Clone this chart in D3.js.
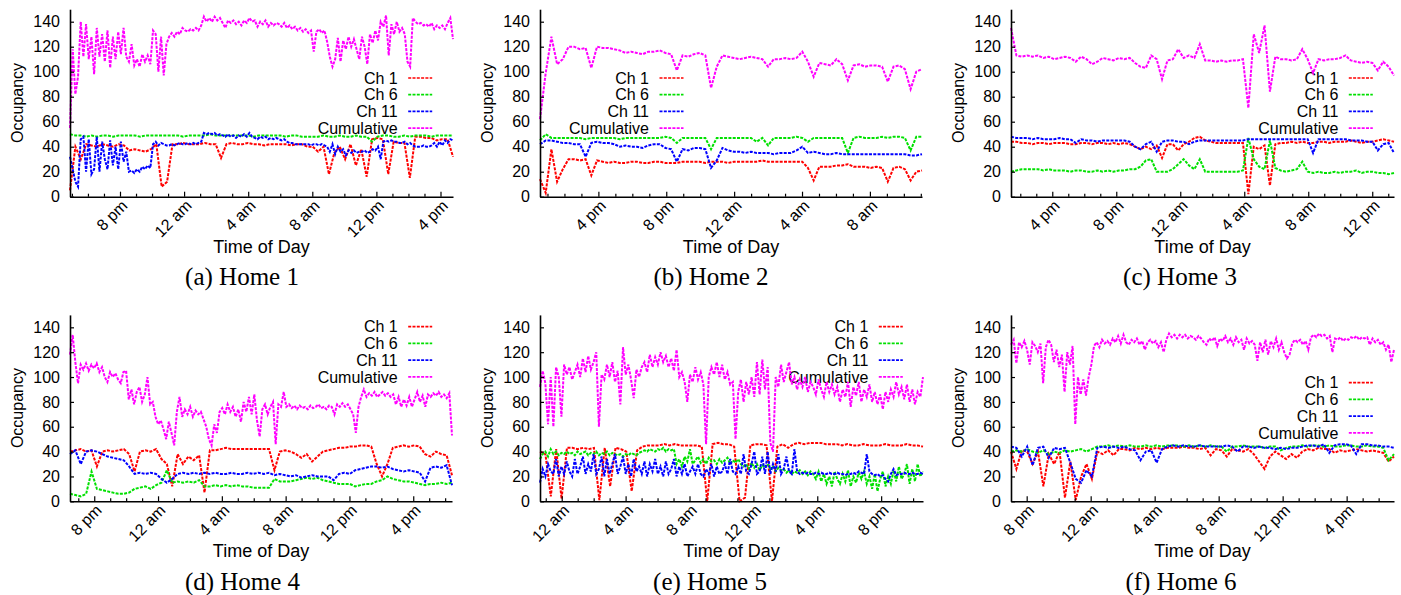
<!DOCTYPE html>
<html>
<head>
<meta charset="utf-8">
<script src="https://cdn.jsdelivr.net/npm/d3@7"></script>
<style>
    body { margin: 0; background: #fff; }
    svg { display: block; }
    .tick text { font-family: 'Liberation Sans', Arial, sans-serif; font-size: 16px; fill: #000; }
</style>
</head>
<body>
<svg id="chart" width="1401" height="595"></svg>
<script>
// ---- data (samples are evenly spaced over each panel's time span) ----
const seriesNames = ['Ch 1', 'Ch 6', 'Ch 11', 'Cumulative'];
const seriesColors = ['#ff0000', '#00e000', '#0000ff', '#ff00ff'];
const yTicks = [0, 20, 40, 60, 80, 100, 120, 140];
const captions = ['(a) Home 1', '(b) Home 2', '(c) Home 3', '(d) Home 4', '(e) Home 5', '(f) Home 6'];
// hours since midnight of day 1 (values > 24 are next day)
const startHours = [16.88, 12.56, 13.42, 18.48, 22.64, 19.02];
const endHours = [40.78, 35.07, 37.36, 42.43, 46.62, 42.96];

const home1Ch1 = [5,40,30,42,41,40,42,41,40,42, 41,37,38,37,36,38,42,8,12,42, 42,43,42,42,42,43,42,42,31,42,
    43,42,42,43,42,42,41,42,42,42, 42,41,42,42,40,40,36,40,18,35, 40,30,42,25,38,16,46,47,46,18,
    44,43,43,15,48,48,47,47,45,46, 46,32];
const home1Ch6 = [50,49,49,48,49,48,49,49,48,49, 49,49,49,48,49,49,49,49,49,49, 49,48,49,49,49,49,50,49,49,49,
    49,49,49,49,48,49,49,49,49,49, 48,49,49,48,48,48,48,49,48,48, 49,48,48,49,48,48,44,48,49,49,
    48,48,49,48,49,49,49,48,49,49, 49,49];
const home1Ch11 = [32,22,12,8,46,48,20,46,18,22, 48,20,44,30,22,45,25,40,22,44, 28,36,20,21,19,22,20,24,22,25,
    23,42,44,41,43,42,41,41,42,41, 42,43,42,42,43,42,43,42,43,44, 51,50,51,50,51,49,50,49,48,50,
    48,49,47,49,48,50,48,51,48,47, 46,48,47,48,46,47,46,47,46,45, 46,44,43,43,42,42,42,42,42,42,
    41,42,42,41,42,41,40,36,42,34, 40,36,38,33,37,35,37,35,36,36, 37,35,36,38,37,40,30,44,45,44,
    45,44,44,43,43,44,42,43,41,40, 40,40,41,40,40,41,43,40,44,41, 45,43,46,45];
const home1Cum = [55,118,82,96,140,112,138,110,128,98, 135,112,130,108,133,103,128,110,132,114,
    135,112,108,122,105,110,104,114,108,113, 106,133,130,100,128,97,122,128,131,128,
    132,130,135,133,132,134,133,135,133,137, 144,140,143,140,144,141,143,139,135,141,
    139,141,138,140,137,141,139,143,140,141, 136,140,138,141,136,139,137,139,138,136,
    139,135,137,134,136,133,135,132,134,131, 133,116,132,134,131,133,124,112,104,110,
    127,108,125,118,128,120,126,118,110,128, 120,106,130,123,133,125,140,136,145,113,
    138,130,140,132,135,130,108,104,143,140, 138,139,137,138,136,139,134,137,135,137,
    134,139,143,126];

const home2Ch1 = [14,3,38,12,22,30,30,29,30,17, 29,28,27,28,27,27,28,28,27,27, 28,28,27,27,27,28,28,28,28,27,
    28,28,28,27,28,28,28,28,28,29, 28,28,28,28,28,28,28,23,13,24, 24,24,25,25,26,24,24,24,23,24,
    23,12,23,24,22,13,20,21];
const home2Ch6 = [45,50,47,47,47,47,47,47,46,47, 47,47,47,47,46,47,47,47,47,47, 47,47,48,47,43,47,47,47,47,47,
    38,47,47,47,47,47,47,47,44,47, 41,47,47,47,47,48,47,44,47,47, 47,47,47,47,35,47,48,47,47,47,
    48,47,48,48,47,37,48,48];
const home2Ch11 = [42,45,45,44,43,43,42,42,32,43, 44,43,43,42,40,41,40,40,39,41, 42,42,39,38,28,38,37,39,39,38,
    23,29,39,37,36,36,35,36,35,35, 35,34,35,35,35,37,40,35,36,35, 34,34,35,34,34,34,34,34,34,34,
    34,34,34,34,34,33,33,34];
const home2Cum = [62,99,128,106,110,120,120,118,119,103, 120,119,119,118,117,115,116,115,114,116,
    116,117,115,114,101,113,112,114,115,113, 87,104,113,112,111,110,111,112,111,110,
    104,110,110,111,110,111,116,108,96,107, 106,105,110,106,93,105,106,104,105,105,
    104,92,104,105,102,86,100,102];

const home3Ch1 = [44,44,43,43,42,43,43,42,43,43, 43,42,42,43,43,42,43,43,42,43, 42,43,42,40,38,40,38,41,31,42,
    42,37,42,44,47,48,45,44,43,43, 43,43,43,43,2,40,38,41,9,42, 43,43,44,43,44,43,43,44,44,43,
    44,44,44,45,44,43,44,44,45,46, 45,44];
const home3Ch6 = [20,21,22,22,22,22,21,22,21,21, 21,20,21,21,20,20,21,20,21,20, 21,21,22,22,24,29,30,20,20,20,
    22,26,30,25,22,30,20,20,20,20, 20,20,20,21,47,30,24,22,45,23, 21,20,21,22,28,20,19,20,19,19,
    20,19,20,20,21,19,20,20,19,19, 18,19];
const home3Ch11 = [48,47,47,47,46,47,46,46,46,47, 46,46,43,46,45,45,44,45,45,45, 45,45,44,40,38,42,44,36,44,45,
    45,44,44,42,44,45,45,45,45,45, 45,45,45,45,46,46,46,46,46,46, 46,46,46,46,46,46,35,46,46,46,
    46,46,46,45,45,45,44,44,37,42, 43,35];
const home3Cum = [135,113,112,113,112,113,111,112,110,111, 112,111,108,112,110,106,108,111,110,109,
    111,110,111,107,104,103,113,110,94,109, 110,118,111,113,111,122,109,109,108,109,
    108,109,109,110,71,130,115,137,84,112, 110,110,109,110,118,110,99,110,109,110,
    110,111,113,109,108,107,108,107,101,108, 104,97];

const home4Ch1 = [40,41,42,40,41,28,40,41,40,41, 42,38,24,40,41,40,42,34,30,12, 38,30,36,33,37,7,41,41,42,43,
    42,42,42,42,42,42,42,42,25,40, 41,40,38,35,38,32,36,40,41,42, 43,43,44,44,45,45,44,30,20,30,
    43,44,45,44,45,44,38,36,40,38, 37,21];
const home4Ch6 = [6,5,4,6,24,10,9,8,7,6, 6,7,10,11,12,10,13,15,25,15, 16,15,16,15,17,12,12,13,12,13,
    12,13,12,12,11,11,11,11,18,16, 16,16,17,18,19,18,19,17,16,15, 14,14,14,12,13,14,14,16,17,20,
    18,17,16,16,15,14,13,14,14,15, 14,15];
const home4Ch11 = [38,41,30,40,41,40,38,36,35,34, 33,28,22,23,22,23,22,18,15,18, 22,23,22,23,22,23,22,23,22,22,
    23,22,22,23,22,23,22,23,21,22, 21,20,21,19,20,21,20,20,20,17, 22,23,22,25,26,27,28,28,27,28,
    26,25,24,25,24,23,16,27,28,27, 29,13];
const home4Cum = [118,134,112,95,110,106,111,105,110,107, 111,104,108,100,96,104,100,103,98,95,
    104,105,82,90,78,88,92,80,86,100, 78,80,68,62,65,58,50,64,55,45,
    72,84,68,74,70,76,68,73,70,72, 66,60,50,45,62,55,72,75,70,78,
    72,76,68,74,64,80,72,84,70,86, 65,52,74,78,70,76,80,46,78,76,
    88,76,78,75,77,74,77,75,76,74, 77,75,76,78,75,76,74,77,76,70,
    78,76,79,76,78,74,70,55,76,84, 90,84,87,85,88,84,86,88,85,87,
    84,86,78,84,76,82,77,84,76,82, 88,80,85,76,86,84,87,85,88,84,
    86,83,87,53];

const home5Ch1 = [40,38,4,42,2,43,43,42,43,42, 43,1,43,12,43,42,40,8,41,44, 45,45,45,46,45,46,45,45,45,45,
    44,0,46,47,46,46,44,0,3,45, 46,46,45,0,44,46,43,46,47,46, 47,47,47,46,46,46,45,46,45,45,
    46,45,45,45,46,45,45,45,46,45, 45,44];
const home5Ch6 = [34,38,40,36,42,38,40,37,39,38, 40,38,39,37,40,38,39,40,37,39, 38,40,37,39,38,40,37,39,38,37,
    38,36,38,37,39,38,37,39,40,41, 40,42,41,40,42,41,43,40,42,41, 42,30,34,28,36,32,42,30,33,36,
    31,34,30,35,32,33,30,34,31,33, 35,30,33,31,34,30,28,30,26,31, 27,30,25,29,27,30,26,28,24,27,
    25,26,23,25,22,24,23,25,22,24, 21,24,22,18,24,16,22,14,20,12, 24,18,14,22,16,25,12,20,15,23,
    18,24,14,20,10,22,8,18,24,12, 20,14,25,16,28,18,22,30,14,26, 16,30,20,24];
const home5Ch11 = [15,26,20,30,24,22,34,20,28,22, 32,24,20,34,22,28,36,22,30,24, 38,22,26,36,20,34,22,30,38,22,
    28,36,22,30,20,34,24,28,22,32, 20,30,24,34,22,28,20,32,22,26, 34,20,28,22,30,20,24,28,22,30,
    22,20,26,22,30,20,28,22,24,30, 22,34,24,22,28,22,38,24,22,30, 40,22,24,36,22,40,22,30,24,38,
    22,26,36,24,22,42,24,22,23,22, 23,22,22,23,22,23,22,22,23,22, 22,23,22,22,21,22,22,23,22,24,
    23,22,38,24,22,21,22,20,21,18, 16,22,26,21,22,22,23,22,22,23, 22,22,23,22];
const home5Cum = [92,105,95,62,100,60,108,100,68,110, 102,108,98,104,110,100,115,104,117,106,
    112,120,60,102,98,110,100,112,96,105, 78,124,102,110,98,83,106,100,108,112,
    104,118,108,116,110,120,112,117,108,115, 105,122,100,104,96,80,102,96,108,98,
    104,94,46,100,108,102,112,100,110,98, 104,94,96,50,88,98,80,96,86,100,
    84,112,86,114,90,108,47,40,100,92, 110,96,104,112,94,100,90,98,92,100,
    88,96,92,86,98,90,84,96,88,94, 86,92,80,90,84,96,76,92,85,96,
    80,90,84,94,80,88,78,86,74,88, 80,90,84,96,86,92,82,94,80,90,
    78,88,84,100];

const home6Ch1 = [40,26,41,40,30,40,12,38,30,40, 3,32,1,20,30,18,40,38,41,37, 42,42,41,43,42,43,42,43,42,43,
    43,43,44,43,43,42,43,37,42,41, 36,42,41,40,42,38,32,26,36,40, 37,34,38,35,40,42,41,43,42,42,
    39,41,40,41,42,41,40,41,40,39, 32,36];
const home6Ch6 = [40,41,40,42,40,39,41,38,40,39, 41,40,41,42,40,42,44,44,45,44, 45,44,45,44,44,45,44,45,44,45,
    45,45,44,45,44,45,44,45,44,44, 40,44,44,45,44,44,44,43,44,44, 41,43,44,44,45,44,45,45,44,45,
    44,44,45,45,44,44,45,44,44,43, 33,38];
const home6Ch11 = [44,43,36,44,29,43,44,35,43,42, 43,31,18,15,25,20,43,44,43,44, 43,44,42,41,33,40,41,31,42,44,
    45,44,45,44,44,45,44,44,44,44, 45,44,40,44,44,43,44,43,43,42, 43,42,43,43,44,45,45,44,46,39,
    45,46,46,45,38,46,46,45,45,44, 44,43];
const home6Cum = [126,130,111,128,124,129,122,110,128,125, 120,127,95,124,130,126,112,122,108,118,
    88,120,110,125,62,100,86,98,85,100, 110,125,128,124,130,127,129,126,131,128,
    133,127,134,128,126,130,128,131,126,129, 122,128,130,127,129,124,128,120,130,135,
    132,134,131,134,132,134,131,133,132,130, 133,131,128,126,131,129,132,125,131,129,
    133,128,131,126,132,128,130,122,131,127, 129,126,113,128,120,130,118,129,124,131,
    122,128,120,115,118,127,130,128,130,126, 129,122,132,134,132,135,133,134,131,133,
    120,131,130,132,129,131,130,132,131,133, 130,132,131,132,126,131,128,130,126,128,
    122,126,112,122];

const homeSeries = [
    [home1Ch1, home1Ch6, home1Ch11, home1Cum],
    [home2Ch1, home2Ch6, home2Ch11, home2Cum],
    [home3Ch1, home3Ch6, home3Ch11, home3Cum],
    [home4Ch1, home4Ch6, home4Ch11, home4Cum],
    [home5Ch1, home5Ch6, home5Ch11, home5Cum],
    [home6Ch1, home6Ch6, home6Ch11, home6Cum],
];

// ---- layout ----
const rowBox = [
    { top: 9.2, bottom: 196.7 },
    { top: 314.9, bottom: 501.3 },
];
const layout = [
    { left: 70, right: 453, row: 0, legendRight: 397.7, legendTop: 78, capX: 242 },
    { left: 540, right: 922, row: 0, legendRight: 649, legendTop: 78, capX: 711 },
    { left: 1011, right: 1394, row: 0, legendRight: 1338.3, legendTop: 78, capX: 1180 },
    { left: 70, right: 452, row: 1, legendRight: 397.7, legendTop: 326.7, capX: 242.5 },
    { left: 540, right: 923, row: 1, legendRight: 868.3, legendTop: 326.7, capX: 710 },
    { left: 1011, right: 1394, row: 1, legendRight: 1338.3, legendTop: 382.7, capX: 1181 },
];

const sans = "'Liberation Sans', Arial, sans-serif";
const serif = "'Liberation Serif', 'Times New Roman', serif";
const lineWidth = 2;
const dash = '3,1.3';

const hourLabel = (h) => {
    const m = ((h % 24) + 24) % 24;
    const hr = m % 12 === 0 ? 12 : m % 12;
    return hr + (m < 12 ? ' am' : ' pm');
};

const svg = d3.select('#chart');

layout.forEach((p, k) => {
    const { top, bottom } = rowBox[p.row];
    const t0 = startHours[k];
    const t1 = endHours[k];
    const g = svg.append('g');

    const xScale = d3.scaleLinear().domain([t0, t1]).range([p.left, p.right]);
    const yScale = d3.scaleLinear().domain([0, 150]).range([bottom, top]);

    // legend first, the data is drawn over it
    seriesNames.forEach((name, s) => {
        const ly = p.legendTop + s * 16.7;
        g.append('text')
            .attr('x', p.legendRight)
            .attr('y', ly)
            .attr('dy', '0.36em')
            .attr('text-anchor', 'end')
            .style('font-family', sans)
            .style('font-size', '16px')
            .text(name);
        g.append('line')
            .attr('x1', p.legendRight + 10.5)
            .attr('x2', p.legendRight + 34.5)
            .attr('y1', ly)
            .attr('y2', ly)
            .attr('stroke', seriesColors[s])
            .attr('stroke-width', 1.7)
            .attr('stroke-dasharray', dash);
    });

    // series (samples evenly spread over the panel's span)
    homeSeries[k].forEach((values, s) => {
        const step = (t1 - t0) / (values.length - 1);
        const line = d3
            .line()
            .x((d, i) => xScale(t0 + i * step))
            .y((d) => yScale(d));
        g.append('path')
            .attr('d', line(values))
            .attr('fill', 'none')
            .attr('stroke', seriesColors[s])
            .attr('stroke-width', lineWidth)
            .attr('stroke-dasharray', dash);
    });

    // x axis: hourly minor ticks, labelled every 4 hours
    const hours = d3.range(Math.ceil(t0), Math.floor(t1) + 1);
    const major = hours.filter((h) => h % 4 === 0);
    const minor = hours.filter((h) => h % 4 !== 0);

    g.append('g')
        .attr('transform', `translate(0,${bottom})`)
        .call(d3.axisBottom(xScale).tickValues(minor).tickSizeInner(-3).tickSizeOuter(0).tickFormat(''))
        .call((a) => a.select('.domain').remove());

    const xAxis = g
        .append('g')
        .attr('transform', `translate(0,${bottom})`)
        .call(d3.axisBottom(xScale).tickValues(major).tickSizeInner(-5).tickSizeOuter(0).tickFormat(hourLabel));
    xAxis.selectAll('.tick text')
        .attr('x', 0)
        .attr('y', 0)
        .attr('dy', null)
        .attr('text-anchor', 'end')
        .attr('transform', 'translate(8,10) rotate(-45)');

    g.append('g')
        .attr('transform', `translate(${p.left},0)`)
        .call(d3.axisLeft(yScale).tickValues(yTicks).tickSizeInner(-4).tickSizeOuter(0).tickPadding(10));

    g.selectAll('.domain').attr('stroke', '#000').attr('stroke-width', 1.6);
    g.selectAll('.tick line').attr('stroke', '#000').attr('stroke-width', 1.2);

    // axis titles and caption
    g.append('text')
        .attr('transform', `translate(${p.left - 53},${(top + bottom) / 2}) rotate(-90)`)
        .attr('dy', '0.36em')
        .attr('text-anchor', 'middle')
        .style('font-family', sans)
        .style('font-size', '16px')
        .text('Occupancy');

    g.append('text')
        .attr('x', (p.left + p.right) / 2)
        .attr('y', bottom + 56)
        .attr('text-anchor', 'middle')
        .style('font-family', sans)
        .style('font-size', '18px')
        .text('Time of Day');

    g.append('text')
        .attr('x', p.capX)
        .attr('y', bottom + 88.5)
        .attr('text-anchor', 'middle')
        .style('font-family', serif)
        .style('font-size', '25px')
        .text(captions[k]);
});
</script>
</body>
</html>
